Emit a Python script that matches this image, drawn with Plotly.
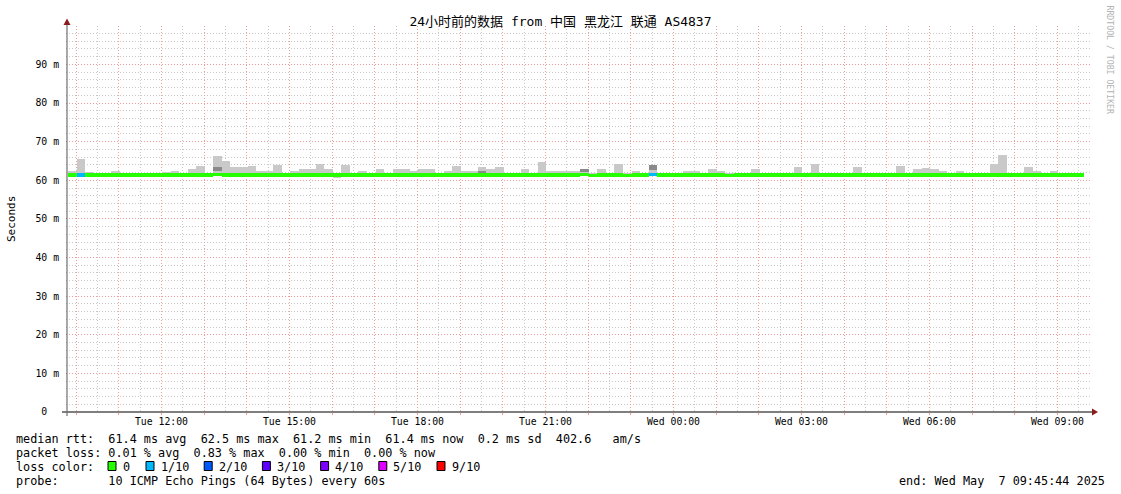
import pandas as pd
import plotly.graph_objects as go

# ---------------- data ----------------
title_text = "24小时前的数据 from 中国 黑龙江 联通 AS4837"
range_start = "2025-05-06 09:45:44"
range_end = "2025-05-07 09:45:44"
first_step = "2025-05-06 09:49:00"
step_minutes = 12

# top of smoke (max rtt per step, ms)
smoke_max = [
    62.3, 65.4, 62.1, 61.9, 61.9, 62.3, 61.9, 61.9, 61.9, 62.0,
    61.9, 62.1, 62.5, 61.8, 62.8, 63.6, 61.9, 66.2, 65.1, 63.4,
    63.4, 63.6, 62.3, 62.3, 63.9, 61.9, 62.5, 62.8, 63.0, 64.1,
    62.8, 62.0, 63.9, 61.9, 62.3, 61.9, 62.8, 61.9, 62.8, 62.8,
    62.3, 62.8, 62.8, 61.9, 62.3, 63.6, 62.3, 62.3, 63.4, 62.8,
    63.4, 61.9, 61.9, 63.0, 61.9, 64.7, 62.3, 62.5, 62.5, 62.5,
    63.0, 61.9, 62.8, 61.9, 64.3, 61.9, 62.3, 62.0, 64.0, 61.9,
    62.0, 61.9, 62.5, 62.3, 61.9, 62.8, 62.3, 61.9, 61.9, 61.9,
    62.8, 61.9, 62.0, 61.9, 61.9, 63.4, 62.0, 64.3, 61.9, 62.0,
    61.9, 62.0, 63.4, 61.9, 62.0, 61.9, 61.9, 63.6, 61.9, 62.8,
    63.1, 62.8, 62.5, 61.9, 62.3, 61.9, 61.9, 61.9, 64.1, 66.5,
    62.0, 61.9, 63.4, 62.5, 61.9, 62.5, 62.0, 62.0, 62.0,
]
# bottom of smoke (min rtt per step, ms)
smoke_min = [
    61.1, 61.1, 60.8, 61.1, 61.1, 61.1, 61.1, 61.1, 61.1, 61.1,
    61.1, 61.1, 61.1, 61.1, 61.1, 61.1, 61.1, 61.1, 61.1, 61.1,
    61.1, 61.1, 61.1, 61.1, 61.1, 61.1, 61.1, 61.1, 61.1, 61.1,
    61.1, 60.6, 61.1, 61.1, 61.1, 61.1, 61.1, 60.8, 61.1, 61.1,
    61.1, 61.1, 61.1, 61.1, 61.1, 61.1, 61.1, 61.1, 61.1, 61.1,
    61.1, 61.1, 61.1, 61.1, 61.1, 61.1, 61.1, 61.1, 61.1, 61.1,
    61.1, 60.8, 61.1, 61.1, 61.1, 60.8, 61.1, 61.1, 61.1, 61.1,
    61.1, 61.1, 61.1, 61.1, 61.1, 61.1, 61.1, 60.8, 61.1, 61.1,
    61.1, 61.1, 61.1, 61.1, 61.1, 61.1, 61.1, 61.1, 61.1, 61.1,
    60.8, 61.1, 61.1, 60.8, 61.1, 61.1, 60.8, 61.1, 61.1, 61.1,
    61.1, 61.1, 61.1, 61.1, 61.1, 61.1, 61.1, 61.1, 61.1, 61.1,
    61.1, 61.1, 61.1, 61.1, 61.1, 61.1, 60.8, 61.1, 61.1,
]
# median rtt per step (ms)
median_rtt = [
    61.4, 61.4, 61.4, 61.4, 61.4, 61.4, 61.4, 61.4, 61.4, 61.4,
    61.4, 61.4, 61.4, 61.4, 61.4, 61.4, 61.4, 61.5, 61.4, 61.4,
    61.4, 61.4, 61.4, 61.4, 61.4, 61.4, 61.4, 61.4, 61.4, 61.4,
    61.4, 61.4, 61.4, 61.4, 61.4, 61.4, 61.4, 61.4, 61.4, 61.4,
    61.4, 61.4, 61.4, 61.4, 61.4, 61.4, 61.4, 61.4, 61.4, 61.4,
    61.4, 61.4, 61.4, 61.4, 61.4, 61.4, 61.4, 61.4, 61.4, 61.4,
    61.5, 61.3, 61.4, 61.4, 61.4, 61.3, 61.4, 61.4, 61.5, 61.4,
    61.4, 61.4, 61.4, 61.4, 61.4, 61.4, 61.4, 61.3, 61.4, 61.4,
    61.4, 61.4, 61.4, 61.4, 61.4, 61.4, 61.4, 61.4, 61.4, 61.4,
    61.4, 61.4, 61.4, 61.4, 61.4, 61.4, 61.4, 61.4, 61.4, 61.4,
    61.4, 61.4, 61.4, 61.4, 61.4, 61.4, 61.4, 61.4, 61.4, 61.4,
    61.4, 61.4, 61.4, 61.4, 61.4, 61.4, 61.4, 61.4, 61.4,
]
# steps with darker (denser) smoke
dark_steps = [17, 48, 60, 68]
dark_top = [63.4, 62.2, 63.0, 64.0]
dark_bottom = [62.3, 61.9, 62.2, 62.6]
# steps with packet loss (pings lost of 10)
loss_steps = [1, 68]
loss_lost = [1, 1]

loss_labels = ["0", "1/10", "2/10", "3/10", "4/10", "5/10", "9/10"]
loss_counts = [0, 1, 2, 3, 4, 5, 9]
loss_colors = ["#26ff00", "#00b8ff", "#0059ff", "#5e00ff", "#7e00ff", "#dd00ff", "#ff0000"]

y_tick_values = [0, 10, 20, 30, 40, 50, 60, 70, 80, 90]
y_tick_labels = ["0\u00a0\u00a0", "10 m", "20 m", "30 m", "40 m", "50 m", "60 m", "70 m", "80 m", "90 m"]

stat_lines = [
    "median rtt:  61.4 ms avg  62.5 ms max  61.2 ms min  61.4 ms now  0.2 ms sd  402.6   am/s",
    "packet loss: 0.01 % avg  0.83 % max  0.00 % min  0.00 % now",
    "loss color:",
    "probe:       10 ICMP Echo Pings (64 Bytes) every 60s",
]
end_text = "end: Wed May  7 09:45:44 2025"
watermark = "RRDTOOL / TOBI OETIKER"

# ---------------- derived ----------------
n = len(smoke_max)
step = pd.Timedelta(minutes=step_minutes)
centers = pd.date_range(first_step, periods=n, freq=f"{step_minutes}min") + step / 2
width_ms = step_minutes * 60 * 1000

color_of = dict(zip(loss_counts, loss_colors))
lost = [0] * n
for s, v in zip(loss_steps, loss_lost):
    lost[s] = v
median_colors = [color_of[v] for v in lost]

hours = pd.date_range("2025-05-06 10:00", "2025-05-07 09:00", freq="1h")
x_tick_text = [h.strftime("%a %H:%M") if h.hour % 3 == 0 else "" for h in hours]

MONO = "DejaVu Sans Mono, Noto Sans CJK SC, monospace"

# plot area in pixels
L, R, T, B = 66, 1090, 26, 412
W, H = R - L, B - T


def px(x):
    return (x - L) / W


def py(y):
    return (B - y) / H


fig = go.Figure()
fig.add_trace(go.Bar(
    x=centers, y=[a - b for a, b in zip(smoke_max, smoke_min)], base=smoke_min,
    width=width_ms, marker=dict(color="#c9c9c9", line=dict(width=0)),
    hoverinfo="skip", showlegend=False))
fig.add_trace(go.Bar(
    x=[centers[i] for i in dark_steps], y=[a - b for a, b in zip(dark_top, dark_bottom)],
    base=dark_bottom, width=width_ms, marker=dict(color="#8a8a8a", line=dict(width=0)),
    hoverinfo="skip", showlegend=False))
fig.add_trace(go.Bar(
    x=centers, y=[0.86] * n, base=[m - 0.43 for m in median_rtt],
    width=width_ms, marker=dict(color=median_colors, line=dict(width=0)),
    hoverinfo="skip", showlegend=False))

major = "#f09a9a"
minor = "#c8c8c8"
DOT = "1px,2px"

fig.update_layout(
    width=1121, height=494,
    margin=dict(l=L, r=1121 - R, t=T, b=494 - B, autoexpand=False),
    paper_bgcolor="white", plot_bgcolor="white",
    barmode="overlay", bargap=0,
    showlegend=False,
    font=dict(family=MONO, color="black", size=10),
    title=dict(text=title_text, x=0.5, xref="container", xanchor="center",
               y=1 - 21 / 494, yref="container", yanchor="middle",
               font=dict(family=MONO, size=13, color="black")),
    xaxis=dict(
        type="date", range=[range_start, range_end], automargin=False,
        tickmode="array", tickvals=hours, ticktext=x_tick_text,
        ticks="outside", ticklen=2, tickcolor=major, ticklabelstandoff=-2,
        showgrid=True, gridcolor=major, griddash=DOT, gridwidth=1,
        minor=dict(dtick=30 * 60 * 1000, tick0="2025-05-06 00:00", showgrid=True,
                   gridcolor=minor, griddash=DOT, gridwidth=1, ticks=""),
        showline=False, zeroline=False,
        tickfont=dict(family=MONO, size=9.8, color="black"),
    ),
    yaxis=dict(
        range=[0, 99.95], automargin=False,
        tickmode="array", tickvals=y_tick_values, ticktext=y_tick_labels,
        ticks="outside", ticklen=4, tickcolor="rgba(0,0,0,0)",
        showgrid=True, gridcolor=major, griddash=DOT, gridwidth=1,
        minor=dict(dtick=2, tick0=0, showgrid=True, gridcolor=minor,
                   griddash=DOT, gridwidth=1, ticks=""),
        showline=False, zeroline=False,
        tickfont=dict(family=MONO, size=9.8, color="black"),
    ),
)

shapes = []
# axis lines
shapes.append(dict(type="line", xref="paper", yref="paper",
                   x0=px(62), x1=px(1093), y0=0, y1=0, line=dict(color="black", width=1.2)))
shapes.append(dict(type="line", xref="paper", yref="paper",
                   x0=px(67), x1=px(67), y0=py(416), y1=py(24), line=dict(color="#6f6f6f", width=1.2)))
# arrows
shapes.append(dict(type="path", xref="paper", yref="paper",
                   path=f"M {px(1098)},{py(412)} L {px(1092)},{py(408.5)} L {px(1092)},{py(415.5)} Z",
                   fillcolor="#8b1c1c", line=dict(width=0)))
shapes.append(dict(type="path", xref="paper", yref="paper",
                   path=f"M {px(67)},{py(18.5)} L {px(63.5)},{py(25)} L {px(70.5)},{py(25)} Z",
                   fillcolor="#8b1c1c", line=dict(width=0)))

annotations = []
annotations.append(dict(text="Seconds", xref="paper", yref="paper",
                        x=px(11), y=py(219), xanchor="center", yanchor="middle", textangle=-90,
                        showarrow=False, font=dict(family=MONO, size=11, color="black")))
row_y = [438.5, 452.5, 466.5, 480.5]
for line, yy in zip(stat_lines, row_y):
    annotations.append(dict(text=line.replace(" ", "\u00a0"), xref="paper", yref="paper",
                            x=px(14), y=py(yy), xanchor="left", yanchor="middle",
                            showarrow=False, font=dict(family=MONO, size=11.8, color="black")))
annotations.append(dict(text=end_text.replace(" ", "\u00a0"), xref="paper", yref="paper",
                        x=px(1107), y=py(480.5), xanchor="right", yanchor="middle",
                        showarrow=False, font=dict(family=MONO, size=11.8, color="black")))
annotations.append(dict(text=watermark.replace(" ", "\u00a0"), xref="paper", yref="paper",
                        x=px(1110), y=py(3), xanchor="center", yanchor="top", textangle=90,
                        showarrow=False, font=dict(family=MONO, size=8.2, color="#b4b4b4")))

# loss colour legend
for i, (lab, col) in enumerate(zip(loss_labels, loss_colors)):
    sx = 108 if i == 0 else 146 + 58.2 * (i - 1)
    shapes.append(dict(type="rect", xref="paper", yref="paper",
                       x0=px(sx), x1=px(sx + 8), y0=py(461.5), y1=py(470.5),
                       fillcolor=col, line=dict(color="black", width=1)))
    annotations.append(dict(text=lab, xref="paper", yref="paper",
                            x=px(sx + 12.5), y=py(466.5), xanchor="left", yanchor="middle",
                            showarrow=False, font=dict(family=MONO, size=11.8, color="black")))

fig.update_layout(shapes=shapes, annotations=annotations)
fig.write_html("out.html", config={"displayModeBar": False},
               post_script="document.body.style.margin='0';document.body.style.overflow='hidden';")
